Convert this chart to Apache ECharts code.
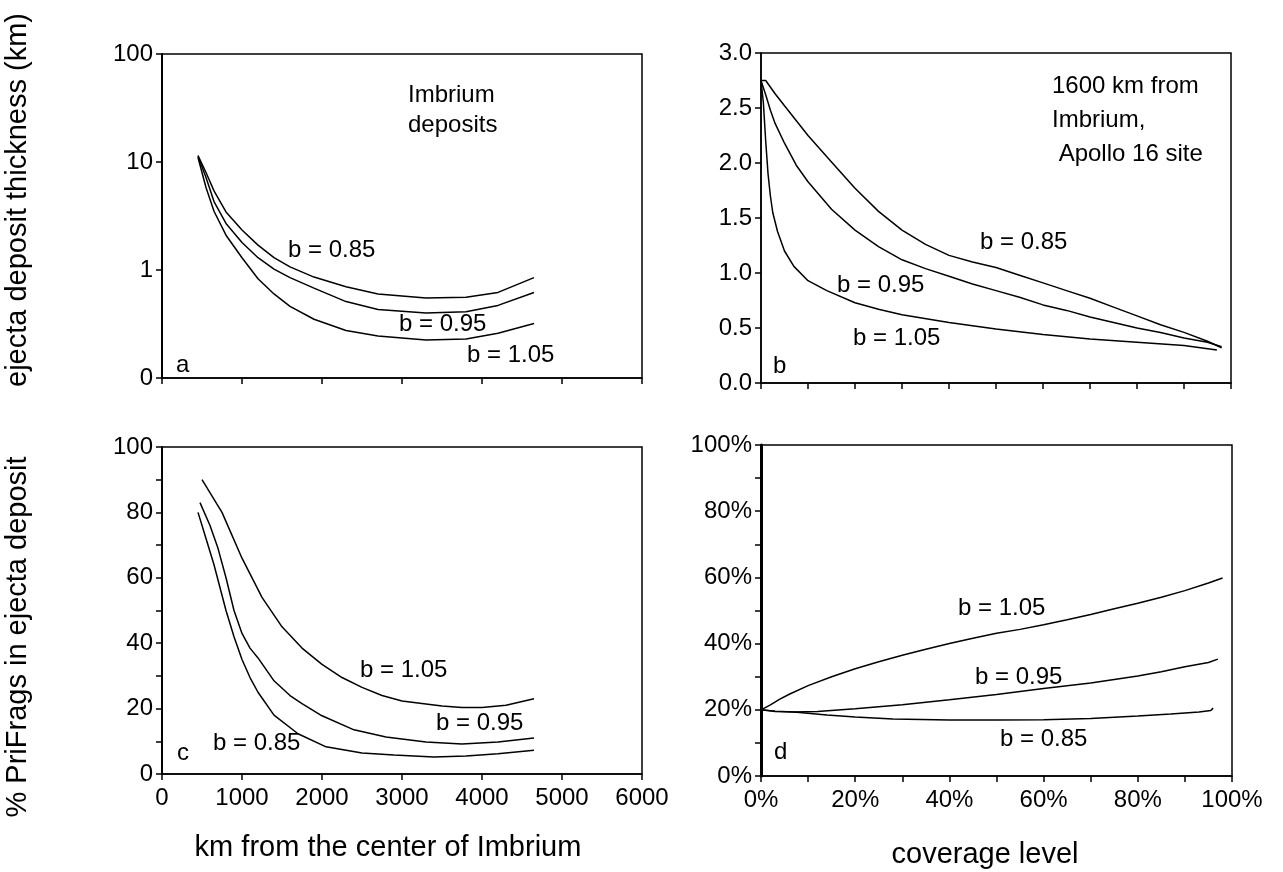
<!DOCTYPE html>
<html>
<head>
<meta charset="utf-8">
<script src="https://cdn.jsdelivr.net/npm/echarts@6/dist/echarts.min.js"></script>
<style>
  html, body { margin: 0; padding: 0; background: #fff; }
  #chart { width: 1283px; height: 872px; }
</style>
</head>
<body>
<div id="chart"></div>
<script>
// panel a: ejecta thickness (km) vs distance (km), log scale
const aKm = [450, 550, 650, 800, 1000, 1200, 1400, 1600, 1900, 2300, 2700, 3300, 3800, 4200, 4650];
const aThick085 = [11.5, 8.0, 5.4, 3.45, 2.35, 1.7, 1.3, 1.07, 0.86, 0.70, 0.60, 0.55, 0.56, 0.62, 0.85];
const aThick095 = [11.3, 7.2, 4.3, 2.7, 1.8, 1.3, 1.02, 0.85, 0.68, 0.51, 0.43, 0.40, 0.41, 0.47, 0.62];
const aThick105 = [11.0, 5.8, 3.5, 2.1, 1.3, 0.83, 0.60, 0.46, 0.35, 0.275, 0.245, 0.225, 0.23, 0.26, 0.32];

// panel b: thickness vs coverage level (%) at 1600 km
const bCov085 = [0, 1, 3, 5, 10, 15, 20, 25, 30, 35, 40, 45, 50, 55, 60, 65, 70, 75, 80, 85, 90, 95, 98];
const bThick085 = [2.75, 2.75, 2.63, 2.52, 2.25, 2.01, 1.77, 1.56, 1.39, 1.26, 1.16, 1.10, 1.05, 0.98, 0.91, 0.84, 0.77, 0.69, 0.61, 0.53, 0.46, 0.38, 0.32];
const bCov095 = [0, 1, 2, 3, 5, 7.5, 10, 15, 20, 25, 30, 35, 40, 45, 50, 55, 60, 65, 70, 75, 80, 85, 90, 95, 98];
const bThick095 = [2.75, 2.62, 2.48, 2.36, 2.18, 1.98, 1.83, 1.58, 1.39, 1.24, 1.12, 1.04, 0.97, 0.90, 0.84, 0.78, 0.71, 0.66, 0.60, 0.55, 0.50, 0.46, 0.41, 0.37, 0.33];
const bCov105 = [0, 0.5, 1, 1.5, 2, 2.5, 3.5, 5, 7, 10, 14, 20, 25, 30, 40, 50, 60, 70, 80, 90, 97];
const bThick105 = [2.75, 2.55, 2.2, 1.9, 1.7, 1.55, 1.38, 1.2, 1.06, 0.93, 0.84, 0.73, 0.67, 0.62, 0.55, 0.49, 0.44, 0.40, 0.37, 0.34, 0.30];

// panel c: % PriFrags vs distance (km)
const cKm105 = [500, 750, 1000, 1250, 1500, 1750, 2000, 2250, 2500, 2750, 3000, 3500, 3750, 4000, 4300, 4650];
const cFrag105 = [90, 80, 66, 54, 45, 38.5, 33.5, 29.5, 26.5, 24, 22.3, 20.8, 20.3, 20.3, 21, 23];
const cKm095 = [475, 600, 700, 800, 900, 1000, 1100, 1200, 1400, 1600, 1750, 2000, 2400, 2800, 3300, 3750, 4200, 4650];
const cFrag095 = [83, 76, 69, 60, 50, 43, 38.5, 35.5, 28.5, 24, 21.5, 17.8, 13.5, 11.3, 9.8, 9.2, 9.8, 11];
const cKm085 = [450, 550, 650, 800, 900, 1000, 1100, 1200, 1400, 1700, 2050, 2500, 2900, 3400, 3800, 4200, 4650];
const cFrag085 = [80, 72, 64, 50, 42, 35, 29.5, 25, 18, 12.3, 8.3, 6.4, 5.8, 5.2, 5.5, 6.2, 7.3];

// panel d: % PriFrags vs coverage level (%)
const dCov105 = [0, 2, 4, 6, 10, 15, 20, 25, 30, 35, 40, 45, 50, 55, 60, 65, 70, 75, 80, 85, 90, 95, 98];
const dFrag105 = [20, 21.5, 23.2, 24.7, 27.3, 30, 32.4, 34.5, 36.5, 38.3, 40, 41.6, 43.1, 44.3, 45.7, 47.2, 48.8, 50.5, 52.2, 54, 56, 58.3, 59.8];
const dCov095 = [0, 3, 7, 12, 20, 30, 40, 50, 60, 70, 80, 85, 90, 95, 97];
const dFrag095 = [20, 19.5, 19.3, 19.5, 20.3, 21.5, 23, 24.6, 26.4, 28.1, 30.2, 31.5, 33, 34.3, 35.3];
const dCov085 = [0, 3, 7, 14, 20, 28, 40, 50, 60, 70, 80, 87, 93, 95.5, 96];
const dFrag085 = [20, 19.6, 19.3, 18.4, 17.8, 17.2, 16.9, 16.9, 17.0, 17.4, 18.1, 18.7, 19.3, 19.8, 20.5];

const distTicks = [0, 6000, 1000];
const pctTicks = [0, 100, 20];

const FONT = '"Liberation Sans", Arial, Helvetica, sans-serif';
const TICK_SIZE = 24;
const NOTE_SIZE = 24;
const TITLE_SIZE = 29;
const chart = echarts.init(document.getElementById('chart'));

function zip(xs, ys) {
  return xs.map((x, i) => [x, ys[i]]);
}

function line(data, idx) {
  return {
    type: 'line',
    xAxisIndex: idx,
    yAxisIndex: idx,
    data: data,
    showSymbol: false,
    symbol: 'none',
    silent: true,
    lineStyle: { color: '#000', width: 1.5 }
  };
}

function label(extra) {
  return Object.assign({ color: '#000', fontSize: TICK_SIZE, fontFamily: FONT, margin: 9 }, extra || {});
}

function ax(extra) {
  return Object.assign({
    axisLine: { show: true, lineStyle: { color: '#000', width: 1.5 } },
    axisTick: { show: true, length: 6, lineStyle: { color: '#000', width: 1.5 } },
    splitLine: { show: false },
    axisLabel: label()
  }, extra);
}

const minor = { show: true, splitNumber: 2, length: 6, lineStyle: { color: '#000', width: 1.5 } };

function txt(x, y, s, opts) {
  opts = opts || {};
  return {
    type: 'text',
    x: x,
    y: y,
    rotation: opts.rotation || 0,
    style: {
      text: s,
      fill: '#000',
      fontSize: opts.size || NOTE_SIZE,
      fontFamily: FONT,
      textAlign: opts.align || 'left',
      align: opts.align || 'left',
      textVerticalAlign: 'middle',
      verticalAlign: 'middle'
    }
  };
}

const gridBorder = { show: true, borderColor: '#000', borderWidth: 1.5, backgroundColor: 'transparent' };

const option = {
  animation: false,
  backgroundColor: '#fff',
  grid: [
    Object.assign({ left: 162, top: 54, width: 480, height: 324 }, gridBorder),
    Object.assign({ left: 761, top: 53, width: 470, height: 330 }, gridBorder),
    Object.assign({ left: 162, top: 447, width: 480, height: 327 }, gridBorder),
    Object.assign({ left: 761, top: 445, width: 471, height: 331 }, gridBorder)
  ],
  xAxis: [
    ax({ gridIndex: 0, type: 'value', min: distTicks[0], max: distTicks[1], interval: distTicks[2],
         axisLabel: { show: false } }),
    ax({ gridIndex: 1, type: 'value', min: 0, max: 100, interval: 10,
         axisLabel: { show: false } }),
    ax({ gridIndex: 2, type: 'value', min: distTicks[0], max: distTicks[1], interval: distTicks[2],
         axisLabel: label({ margin: 12, formatter: v => String(v) }) }),
    ax({ gridIndex: 3, type: 'value', min: pctTicks[0], max: pctTicks[1], interval: pctTicks[2],
         minorTick: minor,
         axisLabel: label({ margin: 12, formatter: '{value}%' }) })
  ],
  yAxis: [
    ax({ gridIndex: 0, type: 'log', logBase: 10, min: 0.1, max: 100,
         axisLine: { show: true, lineStyle: { color: '#000', width: 2 } },
         axisLabel: label({ formatter: v => (v < 1 ? '0' : String(Math.round(v))) }) }),
    ax({ gridIndex: 1, type: 'value', min: 0, max: 3, interval: 0.5,
         axisLabel: label({ formatter: v => v.toFixed(1) }) }),
    ax({ gridIndex: 2, type: 'value', min: 0, max: 100, interval: 20,
         axisLine: { show: true, lineStyle: { color: '#000', width: 2 } },
         minorTick: minor }),
    ax({ gridIndex: 3, type: 'value', min: pctTicks[0], max: pctTicks[1], interval: pctTicks[2],
         axisLine: { show: true, lineStyle: { color: '#000', width: 3 } },
         minorTick: minor,
         axisLabel: label({ formatter: '{value}%' }) })
  ],
  series: [
    line(zip(aKm, aThick085), 0),
    line(zip(aKm, aThick095), 0),
    line(zip(aKm, aThick105), 0),
    line(zip(bCov085, bThick085), 1),
    line(zip(bCov095, bThick095), 1),
    line(zip(bCov105, bThick105), 1),
    line(zip(cKm105, cFrag105), 2),
    line(zip(cKm095, cFrag095), 2),
    line(zip(cKm085, cFrag085), 2),
    line(zip(dCov105, dFrag105), 3),
    line(zip(dCov095, dFrag095), 3),
    line(zip(dCov085, dFrag085), 3)
  ],
  graphic: [
    // axis titles
    txt(18, 200, 'ejecta deposit thickness (km)', { rotation: Math.PI / 2, align: 'center', size: TITLE_SIZE }),
    txt(18, 637, '% PriFrags in ejecta deposit', { rotation: Math.PI / 2, align: 'center', size: TITLE_SIZE }),
    txt(388, 848, 'km from the center of Imbrium', { align: 'center', size: TITLE_SIZE }),
    txt(985, 855, 'coverage level', { align: 'center', size: TITLE_SIZE }),
    // panel a
    txt(408, 95, 'Imbrium'),
    txt(408, 125, 'deposits'),
    txt(288, 250, 'b = 0.85'),
    txt(399, 324, 'b = 0.95'),
    txt(467, 355, 'b = 1.05'),
    txt(176, 365, 'a'),
    // panel b
    txt(1052, 86, '1600 km from'),
    txt(1052, 120, 'Imbrium,'),
    txt(1052, 154, ' Apollo 16 site'),
    txt(980, 242, 'b = 0.85'),
    txt(837, 285, 'b = 0.95'),
    txt(853, 338, 'b = 1.05'),
    txt(773, 366, 'b'),
    // panel c
    txt(360, 670, 'b = 1.05'),
    txt(436, 723, 'b = 0.95'),
    txt(213, 743, 'b = 0.85'),
    txt(177, 753, 'c'),
    // panel d
    txt(958, 608, 'b = 1.05'),
    txt(975, 677, 'b = 0.95'),
    txt(1000, 739, 'b = 0.85'),
    txt(774, 752, 'd')
  ]
};

chart.setOption(option);
window.addEventListener('resize', () => chart.resize());
</script>
</body>
</html>
